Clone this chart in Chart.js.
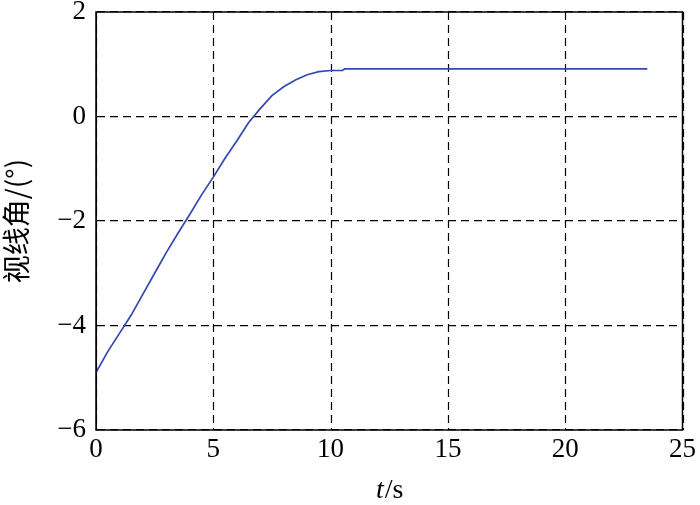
<!DOCTYPE html>
<html><head><meta charset="utf-8">
<script src="https://cdn.jsdelivr.net/npm/chart.js@4"></script>
<style>html,body{margin:0;padding:0;background:#fff}#w{width:700px;height:505px}</style>
</head><body><div id="w"><canvas id="c" width="700" height="505"></canvas></div>
<script>
const timeS = [0,0.5,1,1.5,2,2.5,3,3.5,4,4.5,5,5.5,6,6.5,7,7.5,8,8.5,9,9.5,10,10.5,10.6,23.5];
const angleDeg = [-4.9,-4.5,-4.15,-3.8,-3.4,-3.0,-2.6,-2.23,-1.87,-1.5,-1.16,-0.8,-0.47,-0.12,0.15,0.4,0.57,0.7,0.8,0.86,0.88,0.88,0.91,0.91];
const xTicks = [0,5,10,15,20,25];
const yTicks = [-6,-4,-2,0,2];
const yTitle = '视线角/(°)';

const serif = '"Liberation Serif", "Times New Roman", serif';
const frame = {
  id:'frame',
  beforeDatasetsDraw(ch){
    const {ctx, chartArea:a} = ch;
    const xs = ch.scales.x;
    ctx.save();
    ctx.strokeStyle='#000'; ctx.lineWidth=1.2; ctx.setLineDash([8,5]);
    xTicks.forEach(v=>{
      const px = Math.round(xs.getPixelForValue(v))+0.5;
      ctx.beginPath(); ctx.moveTo(px,a.top); ctx.lineTo(px,a.bottom); ctx.stroke();
    });
    ctx.restore();
  },
  afterDraw(ch){
    const {ctx, chartArea:a} = ch;
    ctx.save();
    ctx.strokeStyle='#000'; ctx.lineWidth=1.5;
    ctx.strokeRect(a.left,a.top,a.right-a.left,a.bottom-a.top);
    ctx.fillStyle='#000';
    ctx.textBaseline='alphabetic';
    const y=498, cx=(a.left+a.right)/2;
    ctx.font='italic 28px '+serif;
    const wt=ctx.measureText('t').width;
    ctx.font='28px '+serif;
    const ws=ctx.measureText('/s').width;
    let x0=cx-(wt+ws)/2;
    ctx.font='italic 28px '+serif;
    ctx.textAlign='left';
    ctx.fillText('t',x0,y);
    ctx.font='28px '+serif;
    ctx.fillText('/s',x0+wt+1,y);
    ctx.restore();
  }
};
new Chart(document.getElementById('c'),{
  type:'line',
  data:{datasets:[{data:timeS.map((t,i)=>({x:t,y:angleDeg[i]})),borderColor:'#3448b0',borderWidth:1.7,pointRadius:0,tension:0,fill:false}]},
  options:{
    responsive:false,animation:false,
    layout:{padding:{top:0,right:15,left:0,bottom:0}},
    plugins:{legend:{display:false},tooltip:{enabled:false}},
    scales:{
      x:{type:'linear',min:0,max:25,
        afterBuildTicks(s){s.ticks=xTicks.map(v=>({value:v}));},
        afterFit(s){s.height=75;},
        grid:{display:false,drawTicks:false},
        border:{display:false},
        ticks:{color:'#000',font:{family:serif,size:27},padding:4,maxRotation:0}
      },
      y:{type:'linear',min:-6,max:2,
        afterBuildTicks(s){s.ticks=yTicks.map(v=>({value:v}));},
        afterFit(s){s.width=96;s.paddingTop=12;s.paddingBottom=0;},
        grid:{color:'#000',lineWidth:1.2,drawTicks:false},
        border:{display:true,color:'#000',dash:[8,5]},
        ticks:{color:'#000',font:{family:serif,size:27},padding:10,callback:v=>String(v).replace('-','\u2212')},
        title:{display:true,text:yTitle,color:'#000',font:{family:'"Noto Sans CJK SC", sans-serif',size:28},padding:{top:0,bottom:4}}
      }
    }
  },
  plugins:[frame]
});
</script></body></html>
